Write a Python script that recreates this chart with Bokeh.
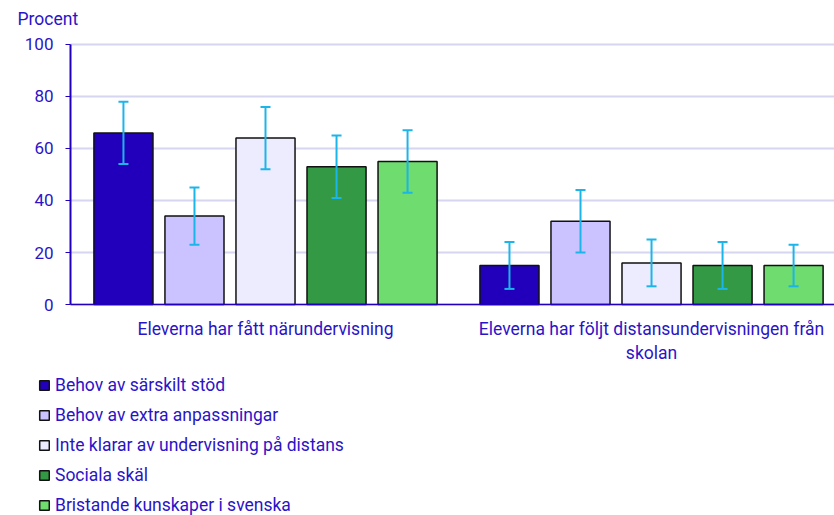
from bokeh.plotting import figure
from bokeh.models import (ColumnDataSource, Whisker, TeeHead, Legend, LegendItem,
                          FixedTicker, Range1d, Label)
from bokeh.embed import file_html
from bokeh.resources import INLINE

# ---- data ----
groups = ["Eleverna har fått närundervisning",
          "Eleverna har följt distansundervisningen från\nskolan"]
series = ["Behov av särskilt stöd",
          "Behov av extra anpassningar",
          "Inte klarar av undervisning på distans",
          "Sociala skäl",
          "Bristande kunskaper i svenska"]
values_nar = [66, 34, 64, 53, 55]
lower_nar = [54, 23, 52, 41, 43]
upper_nar = [78, 45, 76, 65, 67]
values_dist = [15, 32, 16, 15, 15]
lower_dist = [6, 20, 7, 6, 7]
upper_dist = [24, 44, 25, 24, 23]
y_ticks = [0, 20, 40, 60, 80, 100]
unit_label = "Procent"

# ---- styles / layout ----
colors = ["#2200bb", "#cbc3ff", "#ececfe", "#339944", "#6edc6e"]
TXT = "#2a14c8"
AX = "#2200bb"
ERR = "#1cb5ea"
GRID = "#d6d6f0"
FONT = "Roboto"
FS = "17.5px"
FS_TICK = "17px"
step = 0.184
bar_w = 0.153
x_start, x_end = -0.6865, 1.474     # frame spans the whole canvas width
axis_x = -0.5052                     # where the value axis sits
y_bottom, y_top = -81.15, 116.92     # room for unit label, category labels, legend

p = figure(width=834, height=515, output_backend="svg", toolbar_location=None,
           x_range=Range1d(x_start, x_end), y_range=Range1d(y_bottom, y_top),
           min_border=0)

p.add_layout(Label(x=17, y=497, x_units="screen", y_units="screen",
                   text=unit_label, text_font=FONT, text_font_size=FS,
                   text_color=TXT, text_baseline="middle", text_align="left"))

# horizontal grid lines, from the value axis to the right edge
p.segment(x0=[axis_x] * len(y_ticks), x1=[x_end] * len(y_ticks),
          y0=y_ticks, y1=y_ticks, line_color=GRID, line_width=2)

group_pos = list(range(len(groups)))
items = []
for i, name in enumerate(series):
    xs = [g + (i - 2) * step for g in group_pos]
    src = ColumnDataSource(dict(x=xs, top=[values_nar[i], values_dist[i]],
                                lo=[lower_nar[i], lower_dist[i]],
                                hi=[upper_nar[i], upper_dist[i]]))
    r = p.vbar(x="x", top="top", width=bar_w, source=src, fill_color=colors[i],
               line_color="#111111", line_width=1.5)
    w = Whisker(base="x", lower="lo", upper="hi", source=src, level="overlay",
                line_color=ERR, line_width=2,
                upper_head=TeeHead(size=10, line_color=ERR, line_width=2),
                lower_head=TeeHead(size=10, line_color=ERR, line_width=2))
    p.add_layout(w)
    items.append(LegendItem(label=name, renderers=[r]))

legend = Legend(items=items, location=(38, 0), orientation="vertical",
                glyph_width=12, glyph_height=12, label_standoff=5, spacing=9,
                label_height=21, padding=0, margin=0, border_line_color=None,
                background_fill_alpha=0,
                label_text_font=FONT, label_text_font_size=FS,
                label_text_color=TXT)
p.add_layout(legend)

# axes
p.xaxis.fixed_location = 0
p.xaxis.bounds = (axis_x, x_end)
p.xaxis.ticker = FixedTicker(ticks=group_pos)
p.xaxis.major_label_overrides = {g: lab for g, lab in zip(group_pos, groups)}
p.xaxis.major_tick_line_color = None
p.xaxis.minor_tick_line_color = None
p.xaxis.axis_line_color = AX
p.xaxis.axis_line_width = 1.5
p.xaxis.major_label_text_font = FONT
p.xaxis.major_label_text_font_size = FS
p.xaxis.major_label_text_color = TXT
p.xaxis.major_label_standoff = 8

p.yaxis.fixed_location = axis_x
p.yaxis.bounds = (0, 100)
p.yaxis.ticker = FixedTicker(ticks=y_ticks)
p.yaxis.minor_tick_line_color = None
p.yaxis.axis_line_color = AX
p.yaxis.axis_line_width = 2
p.yaxis.major_tick_line_color = AX
p.yaxis.major_tick_in = 0
p.yaxis.major_tick_out = 5
p.yaxis.major_label_text_font = FONT
p.yaxis.major_label_text_font_size = FS_TICK
p.yaxis.major_label_text_color = TXT
p.yaxis.major_label_standoff = 12

p.grid.visible = False
p.outline_line_color = None

open("out.html", "w").write(file_html(p, INLINE))
